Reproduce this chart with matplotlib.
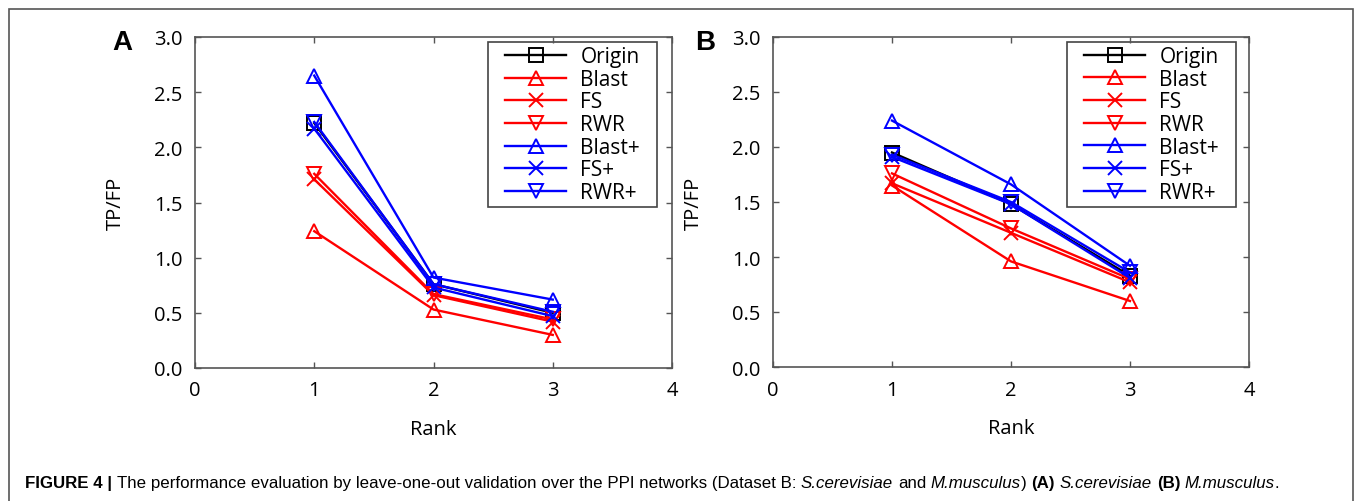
import numpy as np
import matplotlib
matplotlib.use('Agg')
import matplotlib.pyplot as plt
from matplotlib.patches import Rectangle

plt.rcParams['font.family'] = ['Open Sans', 'DejaVu Sans']

# data
ranks = [1, 2, 3]
methods = ['Origin', 'Blast', 'FS', 'RWR', 'Blast+', 'FS+', 'RWR+']
colors = ['black', 'red', 'red', 'red', 'blue', 'blue', 'blue']
markers = ['s', '^', 'x', 'v', '^', 'x', 'v']

# panel A: S.cerevisiae
tpfp_a = {
    'Origin': [2.22, 0.76, 0.50],
    'Blast':  [1.24, 0.53, 0.30],
    'FS':     [1.71, 0.66, 0.42],
    'RWR':    [1.76, 0.67, 0.44],
    'Blast+': [2.65, 0.82, 0.62],
    'FS+':    [2.17, 0.73, 0.47],
    'RWR+':   [2.23, 0.76, 0.51],
}
# panel B: M.musculus
tpfp_b = {
    'Origin': [1.95, 1.48, 0.83],
    'Blast':  [1.65, 0.96, 0.60],
    'FS':     [1.67, 1.22, 0.77],
    'RWR':    [1.76, 1.26, 0.80],
    'Blast+': [2.24, 1.66, 0.92],
    'FS+':    [1.91, 1.48, 0.81],
    'RWR+':   [1.93, 1.50, 0.86],
}

xticks = [0, 1, 2, 3, 4]
yticks = [0.0, 0.5, 1.0, 1.5, 2.0, 2.5, 3.0]

W, H = 1358, 502
fig = plt.figure(figsize=(W / 100, H / 100), dpi=100)
renderer = fig.canvas.get_renderer()

# outer frame
fig.patches.append(Rectangle((9 / W, -0.1), (1353 - 9) / W, 1.1 - 10 / H,
                             transform=fig.transFigure, fill=False,
                             edgecolor='#555555', linewidth=1.2))

spine_col = '#555555'


def draw_panel(rect, data, letter, leg_anchor, letter_x):
    ax = fig.add_axes(rect)
    for name, col, mk in zip(methods, colors, markers):
        ax.plot(ranks, data[name], color=col, marker=mk, markersize=10,
                markerfacecolor='none', markeredgewidth=1.4, linewidth=1.7,
                label=name)
    ax.set_xlim(0, 4)
    ax.set_ylim(0, 3)
    ax.set_xticks(xticks)
    ax.set_yticks(yticks)
    ax.set_yticklabels([f'{v:.1f}' for v in yticks])
    ax.tick_params(direction='in', top=True, right=True, length=4,
                   width=1.0, color=spine_col, labelsize=14.5, pad=9)
    for s in ax.spines.values():
        s.set_color(spine_col)
        s.set_linewidth(1.2)
    ax.set_xlabel('Rank', fontsize=14.5, labelpad=13)
    ax.set_ylabel('TP/FP', fontsize=14.5, labelpad=20)

    # legend without its own frame; a wider box is drawn round it below
    leg = ax.legend(loc='upper right', bbox_to_anchor=leg_anchor,
                    borderaxespad=0, frameon=False, fontsize=15,
                    handlelength=2.9, handletextpad=0.7, labelspacing=0.08,
                    borderpad=0.2)
    bb = leg.get_window_extent(renderer)
    pad_x = 13
    fig.patches.append(Rectangle((bb.x0 - pad_x, bb.y0), bb.width + 2 * pad_x, bb.height,
                                 transform=None, fill=True, facecolor='white',
                                 edgecolor='#444444', linewidth=1.2, zorder=0.5))
    leg.set_zorder(5)
    ax.set_zorder(1)
    ax.patch.set_alpha(0)

    fig.text(letter_x / W, 1 - 43 / H, letter, fontsize=20,
             fontweight='bold', family=['Liberation Sans'], ha='center', va='center')
    return ax


draw_panel([195 / W, 1 - 369 / H, 477 / W, 331 / H], tpfp_a, 'A', (0.942, 0.985), 122)
draw_panel([773 / W, 1 - 368 / H, 476 / W, 330 / H], tpfp_b, 'B', (0.946, 0.985), 705)

# caption with mixed bold / italic pieces
caption = [
    ('FIGURE 4 |', 'bold', 'normal'),
    (' The performance evaluation by leave-one-out validation over the PPI networks (Dataset B:', 'normal', 'normal'),
    (' S.cerevisiae', 'normal', 'italic'),
    (' and', 'normal', 'normal'),
    (' M.musculus', 'normal', 'italic'),
    (')', 'normal', 'normal'),
    (' (A)', 'bold', 'normal'),
    (' S.cerevisiae', 'normal', 'italic'),
    (' (B)', 'bold', 'normal'),
    (' M.musculus', 'normal', 'italic'),
    ('.', 'normal', 'normal'),
]
cap_font = ['Liberation Sans']
cap_size = 12.2


def width_of(s, weight, style):
    t = fig.text(0, 0, s, fontsize=cap_size, family=cap_font, fontweight=weight, fontstyle=style)
    w = t.get_window_extent(renderer).width
    t.remove()
    return w


space_w = width_of('x x', 'normal', 'normal') - width_of('xx', 'normal', 'normal')
x = 25.0
y = 1 - 484 / H
for s, weight, style in caption:
    if s.startswith(' '):
        x += space_w
        s = s[1:]
    t = fig.text(x / W, y, s, fontsize=cap_size, family=cap_font,
                 fontweight=weight, fontstyle=style, va='center', ha='left')
    x = t.get_window_extent(renderer).x1

fig.savefig('out.png', dpi=100)
